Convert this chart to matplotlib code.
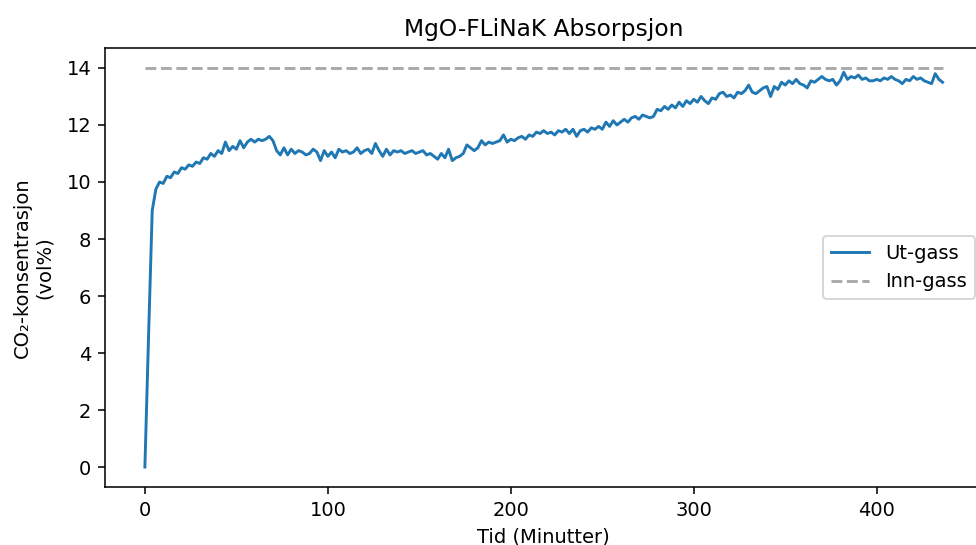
import numpy as np
import matplotlib.pyplot as plt

# Time in minutes (logged every 2 min)
tid = np.arange(0, 437, 2)

# CO2 in the outlet gas (vol%)
ut_gass = [
    0.0, 4.6, 9.0, 9.75, 10.0, 9.95, 10.2, 10.15, 10.35, 10.3,
    10.5, 10.45, 10.6, 10.55, 10.7, 10.65, 10.85, 10.8, 11.0, 10.9,
    11.1, 11.0, 11.4, 11.1, 11.25, 11.15, 11.45, 11.2, 11.4, 11.5,
    11.4, 11.5, 11.45, 11.5, 11.6, 11.45, 11.1, 10.95, 11.2, 10.95,
    11.15, 11.0, 11.1, 11.05, 10.95, 11.0, 11.15, 11.05, 10.75, 11.1,
    10.9, 11.05, 10.85, 11.15, 11.05, 11.1, 11.0, 11.05, 11.2, 11.0,
    11.1, 11.15, 11.0, 11.35, 11.1, 10.9, 11.15, 10.95, 11.1, 11.05,
    11.1, 11.0, 11.05, 11.1, 11.0, 11.05, 11.1, 10.95, 11.0, 10.9,
    10.8, 11.0, 10.85, 11.15, 10.75, 10.85, 10.9, 11.0, 11.3, 11.2,
    11.1, 11.2, 11.45, 11.3, 11.4, 11.35, 11.4, 11.45, 11.65, 11.4,
    11.5, 11.45, 11.55, 11.6, 11.5, 11.65, 11.6, 11.75, 11.7, 11.8,
    11.7, 11.75, 11.65, 11.8, 11.75, 11.85, 11.7, 11.85, 11.6, 11.8,
    11.85, 11.75, 11.9, 11.85, 11.95, 11.85, 12.1, 11.95, 12.15, 12.0,
    12.1, 12.2, 12.1, 12.25, 12.3, 12.2, 12.35, 12.3, 12.25, 12.3,
    12.55, 12.5, 12.65, 12.55, 12.7, 12.6, 12.8, 12.65, 12.85, 12.75,
    12.9, 12.8, 13.0, 12.85, 12.75, 12.95, 12.9, 13.1, 13.15, 13.0,
    13.05, 12.95, 13.15, 13.1, 13.2, 13.4, 13.15, 13.1, 13.2, 13.3,
    13.35, 13.0, 13.35, 13.25, 13.5, 13.4, 13.55, 13.45, 13.6, 13.45,
    13.4, 13.3, 13.55, 13.5, 13.6, 13.7, 13.6, 13.55, 13.6, 13.4,
    13.55, 13.85, 13.6, 13.7, 13.65, 13.75, 13.6, 13.65, 13.55, 13.55,
    13.6, 13.55, 13.65, 13.6, 13.7, 13.6, 13.55, 13.45, 13.6, 13.55,
    13.7, 13.6, 13.65, 13.55, 13.5, 13.45, 13.8, 13.6, 13.5,
]

# CO2 in the inlet gas (vol%)
inn_gass = 14.0

fig = plt.figure(figsize=(976 / 140, 545 / 140), dpi=140)
ax = fig.add_axes([0.1076, 0.1064, 0.899, 0.8055])

ax.plot(tid, ut_gass, label="Ut-gass")
ax.plot(tid, [inn_gass] * len(tid), "--", color="darkgray", label="Inn-gass")

ax.set_title("MgO-FLiNaK Absorpsjon")
ax.set_xlabel("Tid (Minutter)")
ax.set_ylabel("CO₂-konsentrasjon\n(vol%)", labelpad=6.5)
ax.legend(loc="center right", bbox_to_anchor=(0.991, 0.5), borderaxespad=0)

fig.savefig("out.png", dpi=140)
